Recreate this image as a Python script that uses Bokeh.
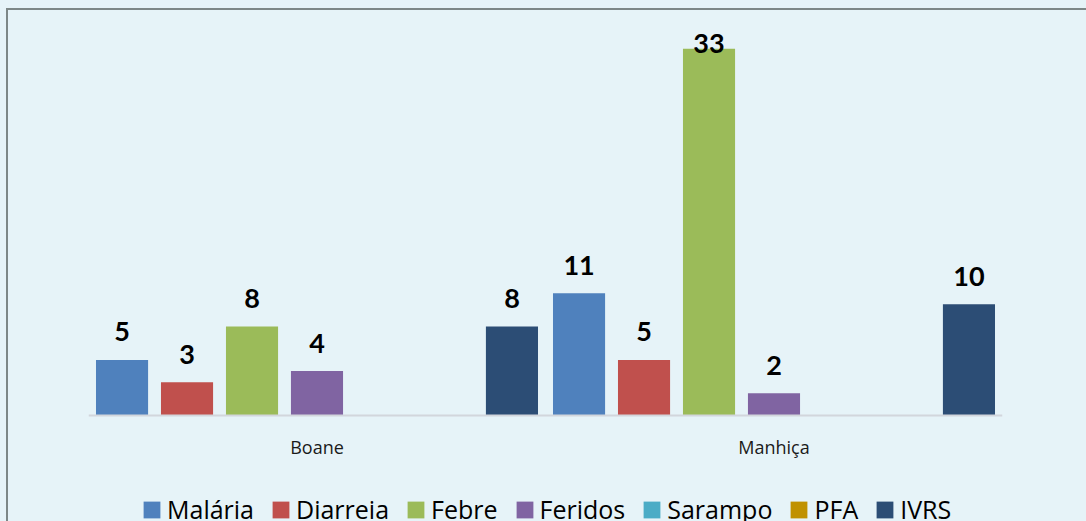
from bokeh.plotting import figure
from bokeh.models import ColumnDataSource, FactorRange, Range1d, Legend, LegendItem, Span
from bokeh.transform import dodge
from bokeh.core.properties import value
from bokeh.embed import file_html
from bokeh.resources import INLINE

# ---- data ----
categories = ["Boane", "Manhiça"]
series_names = ["Malária", "Diarreia", "Febre", "Feridos", "Sarampo", "PFA", "IVRS"]
malaria = [5, 11]
diarreia = [3, 5]
febre = [8, 33]
feridos = [4, 2]
sarampo = [0, 0]
pfa = [0, 0]
ivrs = [8, 10]
series_values = [malaria, diarreia, febre, feridos, sarampo, pfa, ivrs]
colors = ["#4F81BD", "#C0504D", "#9BBB59", "#8064A2", "#4BACC6", "#C09100", "#2C4D75"]

BG = "#e6f3f8"
EDGE = "#7d8787"
Y_END = 35
PLOT_H = 389            # px from value 0 to Y_END
BOTTOM_H = 106          # px below the zero line (category labels + legend)
PX = PLOT_H / Y_END
Y_START = -BOTTOM_H / PX
LABEL_GAP = 28 / PX     # gap between bar top and label baseline
LABEL_MAX = Y_END - 17 / PX
CAT_Y = -31 / PX        # baseline of category labels

p = figure(
    width=1086, height=521,
    x_range=FactorRange(factors=categories, range_padding=0),
    y_range=Range1d(Y_START, Y_END),
    x_axis_location=None, y_axis_location=None,
    toolbar_location=None, output_backend="svg",
    min_border_left=88, min_border_right=84, min_border_top=26, min_border_bottom=0,
    background_fill_color=BG, border_fill_color=None,
    outline_line_color=None,
)
p.styles = {
    "background-color": BG,
    "background-image": (
        f"linear-gradient(to right, transparent 6px, {EDGE} 6px, {EDGE} 8px, transparent 8px), "
        f"linear-gradient(to bottom, transparent 8px, {EDGE} 8px, {EDGE} 10px, transparent 10px)"
    ),
    "background-size": "100% 100%, 100% 100%",
    "background-position": "0 8px, 6px 0",
    "background-repeat": "no-repeat, no-repeat",
}
p.xgrid.grid_line_color = None
p.ygrid.grid_line_color = None

# category axis line
p.add_layout(Span(location=0, dimension="width", line_color="#d2d6dc", line_width=2))

n = len(series_names)
step = 0.1422
bar_w = 0.114
items = []
for i, (name, vals, col) in enumerate(zip(series_names, series_values, colors)):
    off = (i - (n - 1) / 2) * step
    src = ColumnDataSource(dict(cat=categories, v=vals))
    r = p.vbar(x=dodge("cat", off, range=p.x_range), top="v", width=bar_w,
               source=src, fill_color=col, line_color=None)
    items.append(LegendItem(label=name, renderers=[r]))
    lc = [c for c, v in zip(categories, vals) if v > 0]
    lv = [v for v in vals if v > 0]
    ly = [min(v + LABEL_GAP, LABEL_MAX) for v in lv]
    lsrc = ColumnDataSource(dict(cat=lc, y=ly, t=[str(v) for v in lv]))
    p.text(x=dodge("cat", off, range=p.x_range), y="y", text="t", source=lsrc,
           text_align="center", text_baseline="alphabetic",
           text_font=value("Lato"), text_font_style="bold",
           text_font_size="27px", text_color="#000000")

# category labels
csrc = ColumnDataSource(dict(cat=categories, y=[CAT_Y] * len(categories)))
p.text(x="cat", y="y", text="cat", source=csrc, text_align="center",
       text_baseline="alphabetic", text_font=value("Open Sans"),
       text_font_size="18px", text_color="#1a1a1a")

legend = Legend(items=items, orientation="horizontal", location=(53, -5),
                glyph_width=21, glyph_height=21, label_standoff=5, spacing=16,
                padding=0, margin=0, border_line_color=None, background_fill_alpha=0,
                label_text_font="Open Sans", label_text_font_size="25px",
                label_text_color="#000000")
p.add_layout(legend)

open("out.html", "w").write(file_html(p, INLINE))
